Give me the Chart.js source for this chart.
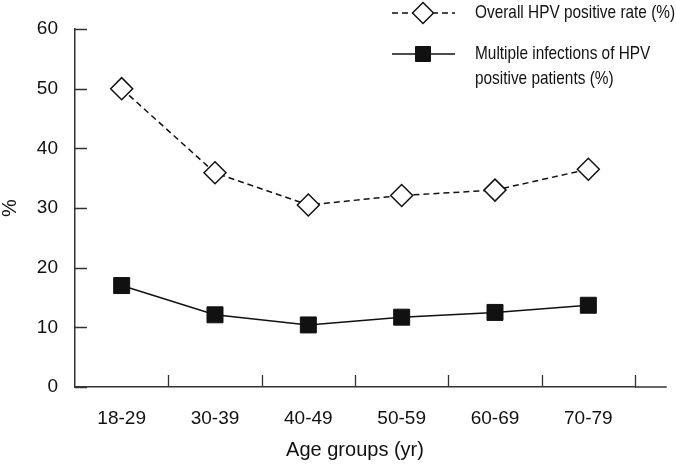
<!DOCTYPE html>
<html>
<head>
<meta charset="utf-8">
<script src="https://cdn.jsdelivr.net/npm/chart.js@4/dist/chart.umd.min.js"></script>
<style>
  html, body { margin: 0; padding: 0; background: #fff; }
  #wrap { width: 676px; height: 464px; }
</style>
</head>
<body>
<div id="wrap"><canvas id="grafico"></canvas></div>
<script>
// datos
const grupos = ['18-29', '30-39', '40-49', '50-59', '60-69', '70-79'];
const tasaGlobal = [50, 35.9, 30.5, 32.1, 33.0, 36.5];
const infeccionesMultiples = [17.0, 12.1, 10.4, 11.7, 12.5, 13.7];
const ticksY = [0, 10, 20, 30, 40, 50, 60];
const nombreGlobal = ['Overall HPV positive rate (%)'];
const nombreMultiples = ['Multiple infections of HPV', 'positive patients (%)'];

const fuente = '"Liberation Sans", Arial, sans-serif';

// marcas hacia dentro en los ejes + eje x que sigue un poco a la derecha
const marcasInternas = {
  id: 'marcasInternas',
  afterDraw(chart) {
    const ctx = chart.ctx;
    const x = chart.scales.x, y = chart.scales.y;
    ctx.save();
    ctx.strokeStyle = '#333';
    ctx.lineWidth = 1.5;
    ctx.beginPath();
    ctx.moveTo(x.right, y.bottom);
    ctx.lineTo(x.getPixelForValue(5.84), y.bottom);
    ctx.stroke();
    ctx.lineWidth = 1.3;
    ctx.beginPath();
    ticksY.forEach(v => {
      const py = Math.round(y.getPixelForValue(v)) + 0.5;
      ctx.moveTo(x.left, py);
      ctx.lineTo(x.left + 12, py);
    });
    grupos.forEach((g, i) => {
      const px = Math.round(x.getPixelForValue(i + 0.5)) + 0.5;
      ctx.moveTo(px, y.bottom);
      ctx.lineTo(px, y.bottom - 12);
    });
    ctx.stroke();
    ctx.restore();
  }
};

// leyenda arriba a la derecha (texto estrecho como en el original)
const leyenda = {
  id: 'leyenda',
  afterDraw(chart) {
    const ctx = chart.ctx;
    const filas = [13, 54];
    ctx.save();
    chart.data.datasets.forEach((ds, i) => {
      const yy = filas[i];
      const cx = 423;
      ctx.strokeStyle = ds.borderColor;
      ctx.lineWidth = ds.borderWidth;
      ctx.setLineDash(ds.borderDash || []);
      ctx.beginPath();
      ctx.moveTo(392, yy);
      ctx.lineTo(455, yy);
      ctx.stroke();
      ctx.setLineDash([]);
      ctx.fillStyle = ds.pointBackgroundColor;
      ctx.lineWidth = ds.pointBorderWidth;
      ctx.beginPath();
      if (ds.pointStyle === 'rectRot') {
        ctx.moveTo(cx, yy - 10.5);
        ctx.lineTo(cx + 10.5, yy);
        ctx.lineTo(cx, yy + 10.5);
        ctx.lineTo(cx - 10.5, yy);
        ctx.closePath();
      } else {
        ctx.rect(cx - 7.5, yy - 7.5, 15, 15);
      }
      ctx.fill();
      ctx.stroke();
      ctx.fillStyle = '#111';
      ctx.font = '19px ' + fuente;
      ctx.textBaseline = 'middle';
      ctx.textAlign = 'left';
      ds.label.forEach((t, k) => {
        ctx.save();
        ctx.translate(475, yy + k * 25);
        ctx.scale(0.81, 1);
        ctx.fillText(t, 0, 0);
        ctx.restore();
      });
    });
    ctx.restore();
  }
};

new Chart(document.getElementById('grafico'), {
  type: 'line',
  data: {
    datasets: [{
      label: nombreGlobal,
      data: tasaGlobal.map((v, i) => ({ x: i, y: v })),
      borderColor: '#111',
      borderWidth: 1.5,
      borderDash: [6, 4],
      pointStyle: 'rectRot',
      pointRadius: 11,
      pointBackgroundColor: '#fff',
      pointBorderColor: '#111',
      pointBorderWidth: 1.5,
      tension: 0
    }, {
      label: nombreMultiples,
      data: infeccionesMultiples.map((v, i) => ({ x: i, y: v })),
      borderColor: '#111',
      borderWidth: 1.5,
      pointStyle: 'rect',
      pointRadius: 11.3,
      pointBackgroundColor: '#111',
      pointBorderColor: '#111',
      pointBorderWidth: 1,
      tension: 0
    }]
  },
  options: {
    responsive: true,
    maintainAspectRatio: false,
    animation: false,
    layout: { padding: { top: 29, right: 41, left: 0, bottom: 0 } },
    plugins: {
      legend: { display: false },
      tooltip: { enabled: false }
    },
    scales: {
      x: {
        type: 'linear',
        min: -0.5,
        max: 5.5,
        grid: { display: false, drawTicks: false },
        border: { display: true, color: '#333', width: 1.5 },
        afterBuildTicks: s => { s.ticks = grupos.map((g, i) => ({ value: i })); },
        afterFit: s => { s.height = 77; },
        ticks: {
          autoSkip: false,
          maxRotation: 0,
          padding: 20,
          color: '#111',
          font: { family: fuente, size: 19 },
          callback: v => grupos[v]
        },
        title: {
          display: true,
          text: 'Age groups (yr)',
          color: '#111',
          font: { family: fuente, size: 20 },
          padding: { top: 0, bottom: 2 }
        }
      },
      y: {
        min: 0,
        max: 60,
        grid: { display: false, drawTicks: false },
        border: { display: true, color: '#333', width: 1.5 },
        afterBuildTicks: s => { s.ticks = ticksY.map(v => ({ value: v })); },
        afterFit: s => { s.width = 75; },
        ticks: {
          padding: 17,
          color: '#111',
          font: { family: fuente, size: 19 }
        },
        title: {
          display: true,
          text: '%',
          color: '#111',
          font: { family: fuente, size: 20, lineHeight: 1 },
          padding: { top: 0, bottom: 0 }
        }
      }
    }
  },
  plugins: [marcasInternas, leyenda]
});
</script>
</body>
</html>
